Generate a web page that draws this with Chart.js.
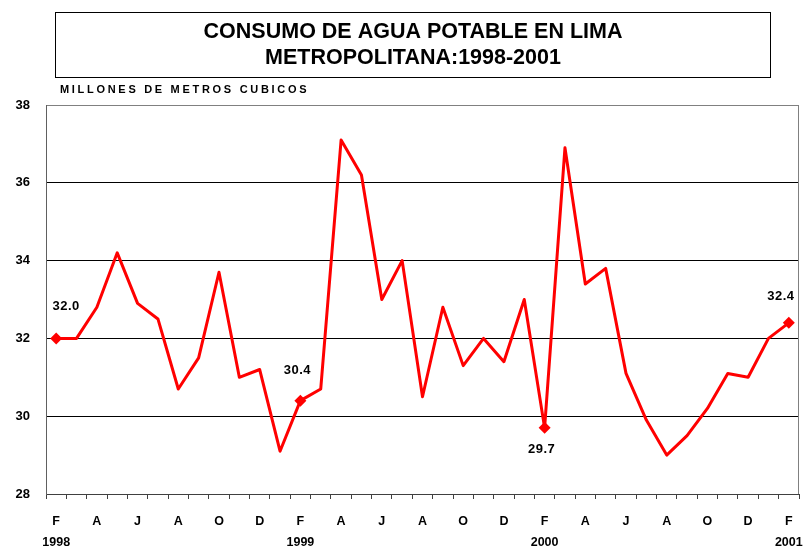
<!DOCTYPE html>
<html>
<head>
<meta charset="utf-8">
<script src="https://cdn.jsdelivr.net/npm/chart.js@4.4.0/dist/chart.umd.min.js"></script>
<style>
    html, body { margin: 0; padding: 0; background: #fff; }
    #wrap { width: 803px; height: 548px; }
</style>
</head>
<body>
<div id="wrap"><canvas id="aguaChart" width="803" height="548"></canvas></div>
<script>
// Months from Feb 1998 to Feb 2001 (Spanish initials)
const months = [
    'F', 'M', 'A', 'M', 'J', 'J', 'A', 'S', 'O', 'N', 'D',
    'E', 'F', 'M', 'A', 'M', 'J', 'J', 'A', 'S', 'O', 'N', 'D',
    'E', 'F', 'M', 'A', 'M', 'J', 'J', 'A', 'S', 'O', 'N', 'D',
    'E', 'F'
];
const years = ['1998', '1999', '2000', '2001'];

// Millones de metros cubicos
const consumo = [
    32.0, 32.0, 32.8, 34.2, 32.9, 32.5, 30.7, 31.5, 33.7, 31.0, 31.2,
    29.1, 30.4, 30.7, 37.1, 36.2, 33.0, 34.0, 30.5, 32.8, 31.3, 32.0, 31.4,
    33.0, 29.7, 36.9, 33.4, 33.8, 31.1, 29.9, 29.0, 29.5, 30.2, 31.1, 31.0,
    32.0, 32.4
];

// points that carry a marker and a value label
const marked = [0, 12, 24, 36];

const yMin = 28, yMax = 38, yStep = 2;

const FONT = '"Liberation Sans", Arial, sans-serif';

document.addEventListener('DOMContentLoaded', () => {
    const ctx = document.getElementById('aguaChart').getContext('2d');

    // offsets of the value labels from their point
    const labelOffsets = [[10, -32], [-3, -30], [-3, 22], [-8, -26]];

    const header = {
        id: 'header',
        afterDraw(chart) {
            const c = chart.ctx;
            const area = chart.chartArea;
            c.save();
            // title box
            c.strokeStyle = '#000';
            c.lineWidth = 1;
            c.strokeRect(55.5, 12.5, 715, 65);
            c.fillStyle = '#000';
            c.textAlign = 'center';
            c.textBaseline = 'middle';
            c.font = 'bold 21.5px ' + FONT;
            c.fillText('CONSUMO DE AGUA POTABLE EN LIMA', 413, 32);
            c.fillText('METROPOLITANA:1998-2001', 413, 58);
            // unit
            c.textAlign = 'left';
            c.font = 'bold 11px ' + FONT;
            c.letterSpacing = '2.7px';
            c.fillText('MILLONES DE METROS CUBICOS', 60, 90);
            c.letterSpacing = '0px';
            // right border of the plot
            c.strokeStyle = '#808080';
            c.beginPath();
            c.moveTo(Math.round(area.right) - 0.5, area.top);
            c.lineTo(Math.round(area.right) - 0.5, area.bottom);
            c.stroke();
            c.restore();
        }
    };

    const valueLabels = {
        id: 'valueLabels',
        afterDatasetsDraw(chart) {
            const c = chart.ctx;
            const meta = chart.getDatasetMeta(0);
            c.save();
            c.font = 'bold 13px ' + FONT;
            c.letterSpacing = '0.5px';
            c.fillStyle = '#000';
            c.textAlign = 'center';
            c.textBaseline = 'middle';
            marked.forEach((idx, k) => {
                const pt = meta.data[idx];
                c.fillText(consumo[idx].toFixed(1), pt.x + labelOffsets[k][0], pt.y + labelOffsets[k][1]);
            });
            c.restore();
        }
    };

    new Chart(ctx, {
        type: 'line',
        data: {
            labels: months,
            datasets: [{
                data: consumo,
                borderColor: '#ff0000',
                backgroundColor: '#ff0000',
                borderWidth: 3,
                borderJoinStyle: 'round',
                tension: 0,
                pointStyle: 'rectRot',
                pointRadius: consumo.map((_, i) => marked.includes(i) ? 6 : 0),
                pointBorderWidth: 0,
                pointHoverRadius: 0
            }]
        },
        options: {
            responsive: false,
            animation: false,
            events: [],
            layout: { autoPadding: false, padding: { top: 105, right: 4, left: 0, bottom: 0 } },
            plugins: {
                legend: { display: false },
                title: { display: false },
                tooltip: { enabled: false }
            },
            scales: {
                x: {
                    offset: true,
                    afterFit: scale => {
                        scale.height = 54;
                        scale.paddingLeft = 0;
                        scale.paddingRight = 0;
                    },
                    grid: {
                        offset: true,
                        drawOnChartArea: false,
                        drawTicks: true,
                        tickLength: 5,
                        color: '#404040'
                    },
                    border: { color: '#404040', width: 1 },
                    ticks: {
                        autoSkip: false,
                        maxRotation: 0,
                        padding: 12,
                        color: '#000',
                        font: { family: FONT, size: 12.5, weight: 'bold', lineHeight: 1.7 },
                        callback: (val, i) => {
                            if (i % 2 !== 0) return '';
                            if (i % 12 === 0) return [months[i], years[i / 12]];
                            return months[i];
                        }
                    }
                },
                y: {
                    min: yMin,
                    max: yMax,
                    afterFit: scale => { scale.width = 46; },
                    grid: {
                        drawTicks: false,
                        color: ctx => ctx.tick.value === yMax ? '#808080' : '#000',
                        lineWidth: 1
                    },
                    border: { color: '#606060', width: 1 },
                    ticks: {
                        stepSize: yStep,
                        padding: 16,
                        color: '#000',
                        font: { family: FONT, size: 13, weight: 'bold' }
                    }
                }
            }
        },
        plugins: [header, valueLabels]
    });
});
</script>
</body>
</html>
